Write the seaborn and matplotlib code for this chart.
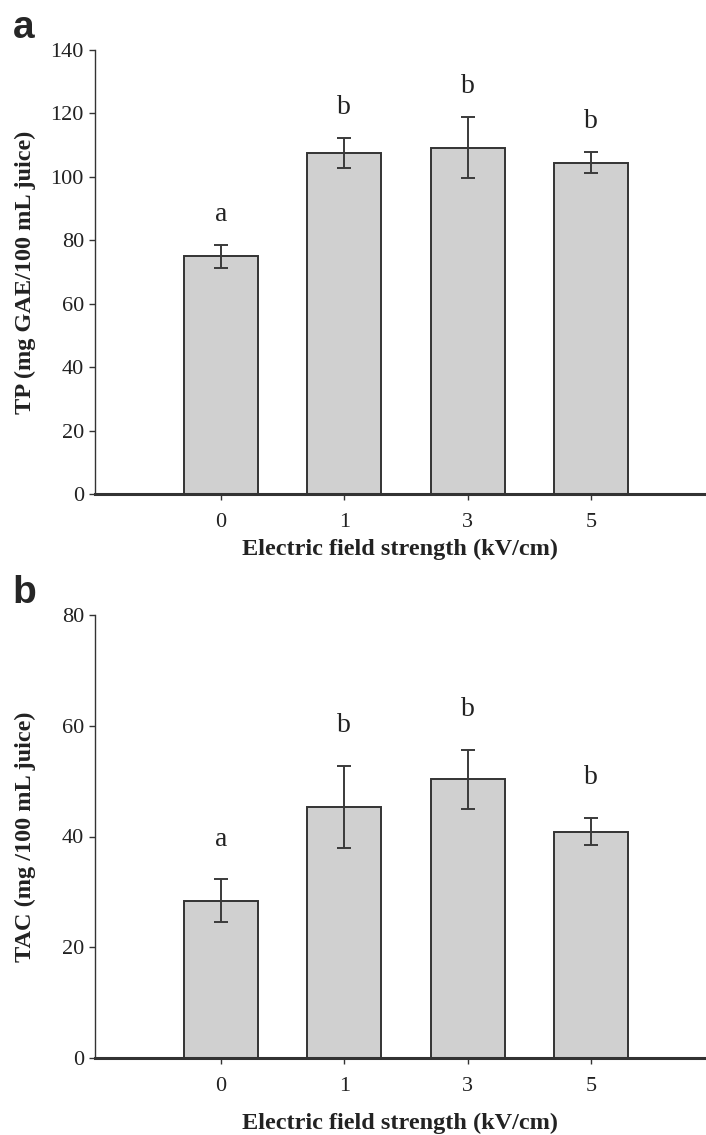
import matplotlib
matplotlib.use("Agg")
import matplotlib.pyplot as plt
import seaborn as sns
import numpy as np

# Datos
field_strength = ["0", "1", "3", "5"]

tp_mean = [75.0, 107.5, 109.2, 104.5]
tp_err = [3.6, 4.8, 9.6, 3.4]
tp_letters = ["a", "b", "b", "b"]

tac_mean = [28.4, 45.4, 50.3, 40.9]
tac_err = [3.9, 7.4, 5.4, 2.5]
tac_letters = ["a", "b", "b", "b"]

sns.set_theme(style="ticks")
plt.rcParams['font.family'] = ['Liberation Serif', 'DejaVu Serif']
plt.rcParams['axes.edgecolor'] = '#333333'
plt.rcParams['xtick.color'] = '#333333'
plt.rcParams['ytick.color'] = '#333333'

W, H = 706, 1135
fig = plt.figure(figsize=(W / 100, H / 100), dpi=100)

def panel(rect, means, errs, letters, ylim, yticks, ylabel, letter_off, tag, xpad):
    ax = fig.add_axes(rect)
    sns.barplot(x=field_strength, y=means, ax=ax, color='#d0d0d0',
                edgecolor='#333333', linewidth=1.4, width=0.6, saturation=1)
    pos = np.arange(len(means))
    ax.errorbar(pos, means, yerr=errs, fmt='none', ecolor='#3a3a3a',
                elinewidth=1.4, capsize=4.7, capthick=1.4)
    for p, m, e, l in zip(pos, means, errs, letters):
        ax.text(p, m + e + letter_off, l, ha='center', va='baseline',
                fontsize=20, color='#222222')
    ax.set_xlim(-1.02, 3.93)
    ax.set_ylim(*ylim)
    ax.set_yticks(yticks)
    ax.spines['top'].set_visible(False)
    ax.spines['right'].set_visible(False)
    ax.spines['bottom'].set_linewidth(2.2)
    ax.spines['left'].set_linewidth(1.0)
    ax.tick_params(axis='both', labelsize=16, length=4.5, width=1.0, direction='out',
                   labelcolor='#222222')
    ax.tick_params(axis='x', pad=9)
    ax.set_ylabel(ylabel, fontsize=17.5, fontweight='bold', color='#222222')
    ax.yaxis.set_label_coords(-0.097, 0.5)
    ax.set_xlabel("Electric field strength (kV/cm)", fontsize=17.5,
                  fontweight='bold', labelpad=xpad, color='#222222')
    fig.text(0.018, rect[1] + rect[3] + 12 / H, tag, fontsize=28, fontweight='bold',
             family='Liberation Sans', va='baseline', ha='left')
    return ax

ax1 = panel([95 / W, 1 - 494 / H, 1 - 95 / W, (494 - 50) / H],
            tp_mean, tp_err, tp_letters, (0, 140), range(0, 141, 20),
            "TP (mg GAE/100 mL juice)", 7.5, "a", 5)
ax2 = panel([95 / W, 1 - 1058 / H, 1 - 95 / W, (1058 - 615) / H],
            tac_mean, tac_err, tac_letters, (0, 80), range(0, 81, 20),
            "TAC (mg /100 mL juice)", 6.0, "b", 12)

fig.savefig("out.png", dpi=100)
